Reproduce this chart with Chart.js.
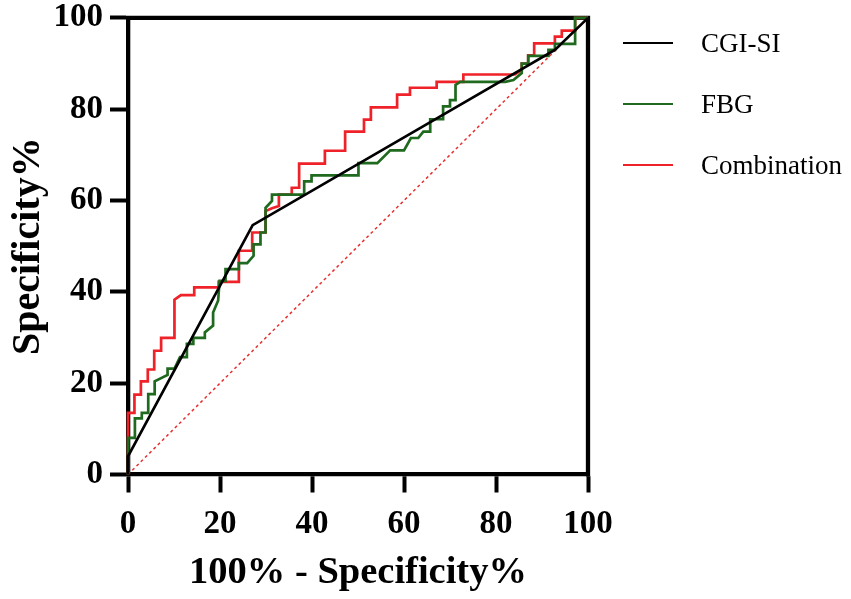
<!DOCTYPE html>
<html>
<head>
<meta charset="utf-8">
<script src="https://cdn.jsdelivr.net/npm/chart.js@4.4.1/dist/chart.umd.min.js"></script>
<style>
  html, body { margin: 0; padding: 0; background: #fff; }
  #wrap { width: 851px; height: 599px; }
</style>
</head>
<body>
<div id="wrap"><canvas id="roc" width="851" height="599"></canvas></div>
<script>
// ROC data, x = 100% - Specificity%, y = Specificity%
const seriesNames = ["CGI-SI", "FBG", "Combination"];
const axisTicks = [0, 20, 40, 60, 80, 100];

const cgiX = [0, 0, 27.1, 92.8, 100];
const cgiY = [0, 4, 54.6, 93, 100];

const fbgX = [0, 0, 1.5, 1.5, 3, 3, 4.4, 4.4, 5.8, 5.8, 8.6, 8.6, 10.1, 11.3, 12.8, 12.8, 14.2, 14.2,
  16.7, 16.7, 18.5, 18.5, 19.6, 19.9, 21.2, 21.2, 24.1, 24.1, 25.9, 27.3, 27.3, 28.8, 28.8, 29.9,
  29.9, 31.3, 31.3, 38.3, 38.3, 39.9, 39.9, 50.1, 50.1, 54.2, 57, 60, 61.5, 63.1, 64.2, 65.7, 65.7,
  68.5, 68.5, 70, 70, 71.2, 71.2, 72.2, 82, 83.8, 85.6, 85.6, 87, 87, 91.4, 91.4, 92.8, 92.8, 97.2,
  97.2, 100];
const fbgY = [0, 8, 8, 12.3, 12.3, 13.5, 13.5, 17.6, 17.6, 20.4, 21.8, 23.2, 23.2, 25.7, 25.7, 28.6, 28.6, 29.9,
  29.9, 31.1, 32.6, 35.5, 38.1, 42.4, 42.4, 45, 45, 46.3, 46.3, 47.9, 50.4, 50.4, 53, 53,
  58.4, 59.9, 61.3, 61.3, 64.2, 64.2, 65.5, 65.5, 68.2, 68.2, 71, 71, 73.7, 73.7, 75.1, 75.1, 77.8,
  77.8, 80.6, 80.6, 82, 82, 85.3, 86, 86, 86.4, 87.9, 90, 90, 91.7, 91.7, 93, 93, 94.3, 94.3,
  100, 100];

const combX = [0, 0, 1.4, 1.4, 2.8, 2.8, 4.3, 4.3, 5.7, 5.7, 7.2, 7.2, 10.1, 10.1, 11.5, 14.4, 14.4,
  19.7, 19.7, 24.1, 24.1, 27, 27, 29.9, 29.9, 31.3, 32.8, 32.8, 35.6, 35.6, 37.2, 37.2, 42.8, 42.8,
  47.2, 47.2, 51.3, 51.3, 52.8, 52.8, 58.5, 58.5, 61.3, 61.3, 67.1, 67.1, 72.9, 72.9, 84.1, 85.6,
  85.6, 87, 87, 88.3, 88.3, 92.8, 92.8, 94.3, 94.3, 97.2, 97.2, 100];
const combY = [0, 13.5, 13.5, 17.5, 17.5, 20.4, 20.4, 23, 23, 27.1, 27.1, 29.9, 29.9, 38.3, 39.3, 39.3, 41,
  41, 42.2, 42.2, 49, 49, 53, 53, 57.7, 58.3, 58.8, 61.3, 61.3, 62.8, 62.8, 68.1, 68.1, 70.9,
  70.9, 75.1, 75.1, 77.7, 77.7, 80.4, 80.4, 83.2, 83.2, 84.7, 84.7, 86, 86, 87.6, 87.6, 88.6,
  90, 90, 91.8, 91.8, 94.4, 94.4, 95.9, 95.9, 97.2, 97.2, 100, 100];

const refX = [0, 100];
const refY = [0, 100];

const toPoints = (xs, ys) => xs.map((x, i) => ({ x: x, y: ys[i] }));

const serif = "'Liberation Serif', 'Times New Roman', serif";
Chart.defaults.font.family = serif;
Chart.defaults.color = "#000";

// top and right edges of the frame
const framePlugin = {
  id: "frame",
  beforeDatasetsDraw(chart) {
    const { ctx, chartArea } = chart;
    ctx.save();
    ctx.strokeStyle = "#000";
    ctx.lineWidth = 4.3;
    ctx.beginPath();
    ctx.moveTo(chartArea.left - 2, chartArea.top);
    ctx.lineTo(chartArea.right, chartArea.top);
    ctx.lineTo(chartArea.right, chartArea.bottom + 2);
    ctx.stroke();
    ctx.restore();
  }
};

// legend on the right, line sample + label
const sideLegend = {
  id: "sideLegend",
  afterDraw(chart) {
    const { ctx, chartArea } = chart;
    const x0 = chartArea.right + 35;
    ctx.save();
    ctx.font = "27px " + serif;
    ctx.textBaseline = "middle";
    chart.data.datasets.forEach((ds, i) => {
      if (!ds.label) return;
      const y = chartArea.top + 25 + i * 61;
      ctx.strokeStyle = ds.borderColor;
      ctx.lineWidth = 2;
      ctx.beginPath();
      ctx.moveTo(x0, y);
      ctx.lineTo(x0 + 50, y);
      ctx.stroke();
      ctx.fillStyle = "#000";
      ctx.fillText(ds.label, x0 + 78, y + 2);
    });
    ctx.restore();
  }
};

const lineStyle = { showLine: true, pointRadius: 0, tension: 0, borderWidth: 2.7, clip: false, fill: false };

new Chart(document.getElementById("roc"), {
  type: "scatter",
  data: {
    datasets: [
      { ...lineStyle, label: seriesNames[0], data: toPoints(cgiX, cgiY), borderColor: "#000000" },
      { ...lineStyle, label: seriesNames[1], data: toPoints(fbgX, fbgY), borderColor: "#1f6a1f" },
      { ...lineStyle, label: seriesNames[2], data: toPoints(combX, combY), borderColor: "#ee2228" },
      { ...lineStyle, label: "", data: toPoints(refX, refY), borderColor: "#e53030",
        borderWidth: 1.5, borderDash: [3, 3] }
    ]
  },
  options: {
    responsive: false,
    animation: false,
    devicePixelRatio: 1,
    layout: { padding: { left: 0, right: 263, top: 0, bottom: 0 } },
    plugins: { legend: { display: false }, tooltip: { enabled: false } },
    scales: {
      x: {
        type: "linear",
        min: 0,
        max: 100,
        afterBuildTicks: (scale) => { scale.ticks = axisTicks.map(v => ({ value: v })); },
        afterFit: (scale) => { scale.height = 124.5; },
        grid: { drawOnChartArea: false, drawTicks: true, tickLength: 18, tickWidth: 4, color: "#000" },
        border: { display: true, width: 4.3, color: "#000" },
        ticks: { padding: 15, font: { size: 33, weight: "bold", lineHeight: 1 }, color: "#000" },
        title: {
          display: true,
          text: "100% - Specificity%",
          font: { size: 38.5, weight: "bold" },
          color: "#000",
          padding: { top: 0, bottom: 3 }
        }
      },
      y: {
        type: "linear",
        min: 0,
        max: 100,
        afterBuildTicks: (scale) => { scale.ticks = axisTicks.map(v => ({ value: v })); },
        afterFit: (scale) => { scale.width = 128; },
        grid: { drawOnChartArea: false, drawTicks: true, tickLength: 18, tickWidth: 4, color: "#000" },
        border: { display: true, width: 4.3, color: "#000" },
        ticks: { padding: 7, font: { size: 33, weight: "bold", lineHeight: 0.66 }, color: "#000" },
        title: {
          display: true,
          text: "Specificity%",
          font: { size: 40, weight: "bold" },
          color: "#000",
          padding: { top: 5, bottom: 0 }
        }
      }
    }
  },
  plugins: [framePlugin, sideLegend]
});
</script>
</body>
</html>
